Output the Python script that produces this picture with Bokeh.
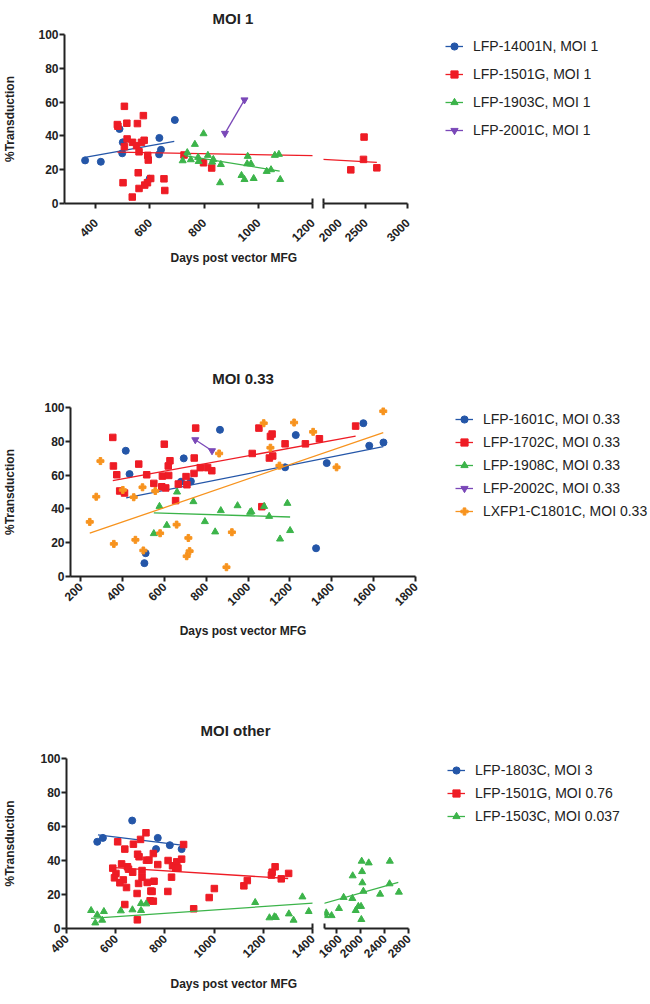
import math
import numpy as np
from bokeh.plotting import figure
from bokeh.layouts import column, row
from bokeh.models import Range1d, FixedTicker, Legend, LegendItem, LinearAxis, Title
from bokeh.embed import file_html
from bokeh.resources import INLINE

FONT = "Liberation Sans"
INK = "#222222"
BLUE = "#2456a8"
RED = "#ee1c25"
GREEN = "#3cb44a"
PURPLE = "#7a48b8"
ORANGE = "#f7931e"

# ---------------- MOI 1 ----------------
m1_14001n_x = [361, 419, 488, 500, 498, 635, 634, 641, 692, 599]
m1_14001n_y = [25.5, 24.7, 44.1, 36.2, 29.7, 38.8, 29.1, 31.8, 49.4, 14.6]
m1_14001n_fit_x = [355, 690]
m1_14001n_fit_y = [27.1, 36.8]

m1_1501g_x = [506, 480, 482, 515, 576, 554, 516, 536, 506, 551, 569, 579, 560, 592, 594,
              557, 501, 603, 591, 581, 560, 535, 652, 655, 726, 798, 828,
              2483, 2476, 2325, 2635]
m1_1501g_y = [57.5, 46.7, 45.7, 47.5, 52.0, 47.3, 38.2, 36.2, 33.6, 34.2, 36.2, 37.4, 30.6, 28.5, 25.7,
              18.2, 12.3, 14.8, 12.3, 10.9, 8.9, 3.8, 14.6, 7.7, 28.7, 24.1, 21.0,
              39.3, 26.1, 19.9, 21.1]
m1_1501g_fit_x = [480, 2635]
m1_1501g_fit_y = [30.4, 24.3]

m1_1903c_x = [721, 738, 751, 766, 798, 778, 780, 814, 830, 834, 862, 859, 938, 949, 961, 983,
              959, 973, 1031, 1047, 1061, 1076, 1081]
m1_1903c_y = [25.3, 30.1, 25.9, 35.0, 41.3, 27.3, 24.9, 28.5, 24.5, 26.1, 23.1, 12.3, 16.6, 14.2,
              27.9, 14.8, 23.5, 23.5, 19.0, 20.0, 28.5, 29.1, 14.2]
m1_1903c_fit_x = [729, 1079]
m1_1903c_fit_y = [28.3, 19.2]

m1_2001c_x = [877, 949]
m1_2001c_y = [41.5, 61.3]

# ---------------- MOI 0.33 ----------------
m2_1601c_x = [416, 434, 505, 511, 693, 680, 727, 866, 1177, 1228, 1325, 1376, 1551, 1579, 1647]
m2_1601c_y = [74.4, 60.6, 7.9, 13.8, 69.9, 56.1, 56.3, 86.8, 64.6, 83.7, 16.7, 67.1, 90.7, 77.4, 79.3]
m2_1601c_fit_x = [418, 1646]
m2_1601c_fit_y = [46.5, 76.8]

m2_1702c_x = [354, 357, 373, 387, 410, 478, 516, 550, 588, 600, 591, 607, 619, 621, 627, 654, 667,
              704, 708, 742, 743, 750, 772, 807, 827, 1020, 1052, 1102, 1107, 1115, 1118, 1066,
              1177, 1274, 1341, 1514]
m2_1702c_y = [82.3, 65.4, 60.2, 50.6, 49.4, 66.5, 60.2, 55.1, 53.1, 78.3, 59.4, 52.4, 65.4, 59.8,
              68.5, 44.9, 54.7, 59.1, 54.3, 61.0, 70.1, 87.8, 64.4, 64.4, 62.6, 72.8, 87.8, 70.1,
              82.9, 84.3, 71.3, 41.3, 78.5, 78.5, 81.5, 89.0]
m2_1702c_fit_x = [354, 1514]
m2_1702c_fit_y = [56.7, 83.1]

m2_1908c_x = [550, 577, 612, 661, 739, 794, 843, 870, 950, 1010, 1016, 1077, 1101, 1153, 1188, 1201]
m2_1908c_y = [25.4, 41.5, 30.3, 50.0, 44.3, 32.5, 26.4, 39.0, 41.9, 38.0, 38.4, 41.5, 35.6, 22.2,
              43.3, 27.2]
m2_1908c_fit_x = [550, 1201]
m2_1908c_fit_y = [37.6, 35.2]

m2_2002c_x = [748, 828]
m2_2002c_y = [80.9, 74.4]

m2_c1801c_x = [244, 275, 295, 359, 402, 454, 462, 496, 500, 557, 580, 659, 707, 715, 721, 862, 897,
               923, 1075, 1107, 1150, 1220, 1311, 1423, 1646]
m2_c1801c_y = [32.3, 47.2, 68.3, 19.3, 51.2, 46.9, 21.7, 52.8, 15.4, 50.6, 25.6, 30.7, 12.0, 22.8,
               15.0, 72.8, 5.5, 26.2, 90.7, 76.2, 65.6, 91.1, 85.6, 64.6, 97.8]
m2_c1801c_fit_x = [244, 1646]
m2_c1801c_fit_y = [25.6, 85.2]

# ---------------- MOI other ----------------
m3_1803c_x = [525, 548, 667, 771, 764, 820, 868]
m3_1803c_y = [51.0, 53.3, 63.5, 53.3, 46.7, 49.0, 46.7]
m3_1803c_fit_x = [528, 868]
m3_1803c_fit_y = [55.1, 49.0]

m3_1501g_x = [608, 637, 672, 701, 723, 753, 689, 695, 725, 735, 771, 813, 831, 848, 868, 844, 853,
              876, 588, 601, 595, 624, 631, 617, 644, 648, 652, 669, 707, 707, 728, 693, 756, 827,
              743, 748, 812, 687, 740, 753, 637, 688, 917, 980, 1001, 1121, 1135, 1233, 1236, 1248,
              1273, 1303]
m3_1501g_y = [51.0, 46.7, 49.6, 52.4, 56.3, 44.1, 43.7, 42.2, 40.2, 40.2, 37.6, 40.0, 36.9, 39.2,
              40.8, 35.5, 35.5, 49.4, 35.5, 32.4, 29.8, 38.0, 28.6, 26.9, 24.1, 36.3, 34.9, 33.1,
              34.1, 30.2, 27.1, 26.5, 27.8, 30.2, 22.0, 21.8, 21.8, 20.6, 16.3, 16.1, 14.1, 5.1,
              11.6, 18.2, 23.5, 25.1, 28.2, 31.4, 33.1, 36.3, 29.2, 32.4]
m3_1501g_fit_x = [578, 1301]
m3_1501g_fit_y = [35.9, 29.4]

m3_1503c_x = [500, 525, 517, 545, 552, 621, 668, 703, 724, 703, 1167, 1225, 1245, 1251, 1304, 1323,
              1359, 1385, 1412, 1429, 1518, 1641, 1719, 1870, 1864, 1920, 1964, 2009, 2020, 2026,
              2031, 2048, 2014, 2137, 2327, 2489, 2484, 2640]
m3_1503c_y = [10.6, 8.0, 3.3, 4.9, 10.0, 10.4, 11.0, 14.7, 14.5, 10.6, 15.3, 6.3, 6.9, 6.5, 8.6, 4.9,
              18.6, 10.0, 7.6, 9.2, 7.6, 11.8, 18.3, 31.0, 17.7, 10.6, 13.0, 13.0, 39.6, 33.5,
              26.9, 21.9, 5.3, 38.6, 20.2, 39.6, 26.3, 21.4]
m3_1503c_fit_x = [500, 2630]
m3_1503c_fit_y = [5.9, 27.2]

y_ticks = [0, 20, 40, 60, 80, 100]


def make_fig(width, height, xr, ticks, left, right, top, bottom, y_axis=True, y_standoff=8,
             x_standoff=3):
    p = figure(width=width, height=height, x_range=Range1d(*xr), y_range=Range1d(0, 100),
               output_backend="svg", toolbar_location=None,
               min_border_left=left, min_border_right=right,
               min_border_top=top, min_border_bottom=bottom,
               y_axis_location="left" if y_axis else None)
    p.outline_line_color = None
    p.grid.visible = False
    p.xaxis.ticker = FixedTicker(ticks=ticks)
    p.xaxis.major_label_orientation = math.pi / 4
    for ax in p.axis:
        ax.axis_line_width = 2
        ax.axis_line_color = INK
        ax.major_tick_line_width = 2
        ax.major_tick_line_color = INK
        ax.major_tick_out = 5
        ax.major_tick_in = 0
        ax.minor_tick_line_color = None
        ax.major_label_text_font = FONT
        ax.major_label_text_font_style = "bold"
        ax.major_label_text_font_size = "12px"
        ax.major_label_text_color = INK
    p.xaxis.major_label_standoff = x_standoff
    if y_axis:
        p.yaxis.ticker = FixedTicker(ticks=y_ticks)
        p.yaxis.major_label_standoff = 1
        p.yaxis.axis_label = "%Transduction"
        p.yaxis.axis_label_text_font = FONT
        p.yaxis.axis_label_text_font_style = "bold"
        p.yaxis.axis_label_text_font_size = "12px"
        p.yaxis.axis_label_text_color = INK
        p.yaxis.axis_label_standoff = y_standoff
    return p


def heading(p, text, size, side, offset, standoff, align="left"):
    p.add_layout(Title(text=text, align=align, offset=offset, standoff=standoff,
                       text_font=FONT, text_font_style="bold", text_font_size=size,
                       text_color=INK), side)


def series(p, xs, ys, fx, fy, color, marker, size, lo, hi):
    x = np.asarray(xs, dtype=float)
    y = np.asarray(ys, dtype=float)
    keep = (x >= lo) & (x <= hi)
    p.line(fx, fy, line_color=color, line_width=1.3)
    p.scatter(x[keep], y[keep], marker=marker, size=size, fill_color=color, line_color=color)


def cap(p, side):
    # short bar crossing the x axis where the axis is broken
    p.add_layout(LinearAxis(bounds=(-3, 3), ticker=FixedTicker(ticks=[]),
                            axis_line_width=2, axis_line_color=INK,
                            major_tick_out=0, major_tick_in=0, minor_tick_out=0, minor_tick_in=0,
                            major_label_standoff=0, major_label_text_font_size="0px"), side)


def legend_fig(width, height, left, top, entries, spacing):
    q = figure(width=width, height=height, x_range=Range1d(0, 1), y_range=Range1d(0, 1),
               output_backend="svg", toolbar_location=None,
               x_axis_location=None, y_axis_location=None,
               min_border_left=left, min_border_top=top, min_border_right=0, min_border_bottom=0)
    q.outline_line_color = None
    q.grid.visible = False
    items = []
    for name, color, marker, size in entries:
        ln = q.line([-3, -2], [-3, -2], line_color=color, line_width=1.3)
        sc = q.scatter([-2], [-2], marker=marker, size=size, fill_color=color, line_color=color)
        items.append(LegendItem(label=name, renderers=[ln, sc]))
    q.add_layout(Legend(items=items, location="top_left",
                        label_text_font=FONT, label_text_font_size="14px", label_text_color=INK,
                        glyph_width=18, glyph_height=20, label_height=20, label_standoff=10,
                        spacing=spacing, padding=0, margin=2, border_line_color=None,
                        background_fill_alpha=0))
    return q


# ---- panel MOI 1 (broken x axis) ----
m1 = [
    ("LFP-14001N, MOI 1", m1_14001n_x, m1_14001n_y, m1_14001n_fit_x, m1_14001n_fit_y, BLUE, "circle", 7),
    ("LFP-1501G, MOI 1", m1_1501g_x, m1_1501g_y, m1_1501g_fit_x, m1_1501g_fit_y, RED, "square", 6.5),
    ("LFP-1903C, MOI 1", m1_1903c_x, m1_1903c_y, m1_1903c_fit_x, m1_1903c_fit_y, GREEN, "triangle", 7),
    ("LFP-2001C, MOI 1", m1_2001c_x, m1_2001c_y, m1_2001c_x, m1_2001c_y, PURPLE, "inverted_triangle", 7),
]
p1a = make_fig(317, 300, (285, 1200), [400, 600, 800, 1000, 1200], 59, 5, 34, 97,
               y_standoff=18, x_standoff=12)
p1b = make_fig(95, 300, (2000, 3000), [2000, 2500, 3000], 6, 5, 34, 97, y_axis=False,
               x_standoff=12)
for name, xs, ys, fx, fy, c, mk, s in m1:
    series(p1a, xs, ys, fx, fy, c, mk, s, 285, 1200)
    series(p1b, xs, ys, fx, fy, c, mk, s, 2000, 3000)
cap(p1a, "right")
cap(p1b, "left")
heading(p1a, "MOI 1", "15px", "above", 148, 15)
heading(p1a, "Days post vector MFG", "12px", "below", 106, 0)
leg1 = legend_fig(238, 300, 31, 34, [(e[0], e[5], e[6], e[7]) for e in m1], 8)

# ---- panel MOI 0.33 ----
m2 = [
    ("LFP-1601C, MOI 0.33", m2_1601c_x, m2_1601c_y, m2_1601c_fit_x, m2_1601c_fit_y, BLUE, "circle", 7),
    ("LFP-1702C, MOI 0.33", m2_1702c_x, m2_1702c_y, m2_1702c_fit_x, m2_1702c_fit_y, RED, "square", 6.5),
    ("LFP-1908C, MOI 0.33", m2_1908c_x, m2_1908c_y, m2_1908c_fit_x, m2_1908c_fit_y, GREEN, "triangle", 7),
    ("LFP-2002C, MOI 0.33", m2_2002c_x, m2_2002c_y, m2_2002c_x, m2_2002c_y, PURPLE, "inverted_triangle", 7),
    ("LXFP1-C1801C, MOI 0.33", m2_c1801c_x, m2_c1801c_y, m2_c1801c_fit_x, m2_c1801c_fit_y, ORANGE, "plus", 7),
]
p2 = make_fig(420, 360, (152, 1800), list(range(200, 1801, 200)), 69, 5, 107, 84, y_standoff=24)
for name, xs, ys, fx, fy, c, mk, s in m2:
    series(p2, xs, ys, fx, fy, c, mk, s, 0, 5000)
heading(p2, "MOI 0.33", "15px", "above", 0, 41, align="center")
heading(p2, "Days post vector MFG", "12px", "below", 0, 18, align="center")
leg2 = legend_fig(230, 360, 33, 107, [(e[0], e[5], e[6], e[7]) for e in m2], 3)

# ---- panel MOI other (broken x axis) ----
m3 = [
    ("LFP-1803C, MOI 3", m3_1803c_x, m3_1803c_y, m3_1803c_fit_x, m3_1803c_fit_y, BLUE, "circle", 7),
    ("LFP-1501G, MOI 0.76", m3_1501g_x, m3_1501g_y, m3_1501g_fit_x, m3_1501g_fit_y, RED, "square", 6.5),
    ("LFP-1503C, MOI 0.037", m3_1503c_x, m3_1503c_y, m3_1503c_fit_x, m3_1503c_fit_y, GREEN, "triangle", 7),
]
p3a = make_fig(317, 342, (400, 1400), [400, 600, 800, 1000, 1200, 1400], 62, 5, 98, 74, y_standoff=20)
p3b = make_fig(96, 342, (1400, 2800), [1600, 2000, 2400, 2800], 7, 5, 98, 74, y_axis=False)
for name, xs, ys, fx, fy, c, mk, s in m3:
    series(p3a, xs, ys, fx, fy, c, mk, s, 400, 1399.9)
    series(p3b, xs, ys, fx, fy, c, mk, s, 1400, 2800)
cap(p3a, "right")
cap(p3b, "left")
heading(p3a, "MOI other", "15px", "above", 134, 40)
heading(p3a, "Days post vector MFG", "12px", "below", 104, 20)
leg3 = legend_fig(237, 342, 32, 98, [(e[0], e[5], e[6], e[7]) for e in m3], 3)

layout = column(row(p1a, p1b, leg1), row(p2, leg2), row(p3a, p3b, leg3))
open("out.html", "w").write(file_html(layout, INLINE))
